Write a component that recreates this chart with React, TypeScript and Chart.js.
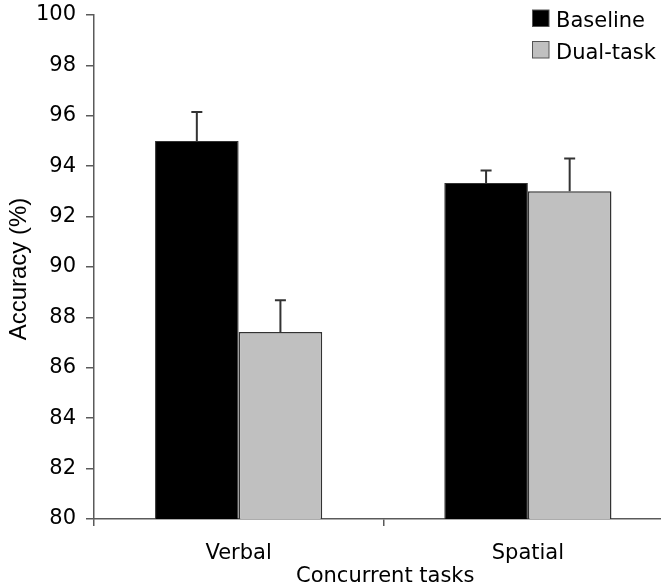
import React, { useEffect, useRef } from "react";
import { Chart, registerables } from "chart.js";

Chart.register(...registerables);

const categories = ["Verbal", "Spatial"];
const seriesNames = ["Baseline", "Dual-task"];
const baselineValues = [95.0, 93.33];
const dualTaskValues = [87.42, 93.01];
const baselineErrors = [1.15, 0.5];
const dualTaskErrors = [1.26, 1.3];
const yTicks = [80, 82, 84, 86, 88, 90, 92, 94, 96, 98, 100];
const yTitle = "Accuracy (%)";
const xTitle = "Concurrent tasks";

const FONT = "'DejaVu Sans', Verdana, sans-serif";
const AXIS = "#5a5a5a";

export default function App() {
  const ref = useRef<HTMLCanvasElement | null>(null);

  useEffect(() => {
    document.body.style.margin = "0";
    const canvas = ref.current;
    if (!canvas) return;
    const errors = [baselineErrors, dualTaskErrors];
    const colors = ["#000000", "#c0c0c0"];

    const extras = {
      id: "extras",
      afterDatasetsDraw(chart: any) {
        const ctx = chart.ctx;
        const yScale = chart.scales.y;
        ctx.save();
        ctx.strokeStyle = "#333";
        ctx.lineWidth = 2;
        chart.data.datasets.forEach((ds: any, di: number) => {
          const meta = chart.getDatasetMeta(di);
          meta.data.forEach((el: any, i: number) => {
            const v = ds.data[i];
            const top = yScale.getPixelForValue(v + errors[di][i]);
            ctx.beginPath();
            ctx.moveTo(el.x, el.y);
            ctx.lineTo(el.x, top);
            ctx.moveTo(el.x - 5.5, top);
            ctx.lineTo(el.x + 5.5, top);
            ctx.stroke();
          });
        });
        ctx.restore();
      },
      afterDraw(chart: any) {
        const ctx = chart.ctx;
        const area = chart.chartArea;
        ctx.save();
        // legend
        ctx.font = `21px ${FONT}`;
        ctx.textBaseline = "alphabetic";
        ctx.textAlign = "left";
        seriesNames.forEach((name, i) => {
          const y = 10 + i * 31.5;
          ctx.fillStyle = colors[i];
          ctx.fillRect(532.5, y, 16.5, 16.5);
          ctx.strokeStyle = "#555";
          ctx.lineWidth = 1;
          ctx.strokeRect(532.5, y, 16.5, 16.5);
          ctx.fillStyle = "#000";
          ctx.fillText(name, 556, y + 17);
        });
        // x title
        ctx.textAlign = "center";
        ctx.fillText(xTitle, (area.left + area.right) / 2 + 2, 582);
        // y title
        ctx.font = "24px 'Liberation Sans', Arial, sans-serif";
        ctx.translate(26, 269);
        ctx.rotate(-Math.PI / 2);
        ctx.textAlign = "center";
        ctx.fillText(yTitle, 0, 0);
        ctx.restore();
      },
    };

    const chart = new Chart(canvas, {
      type: "bar",
      data: {
        labels: categories,
        datasets: [
          {
            label: seriesNames[0],
            data: baselineValues,
            backgroundColor: colors[0],
            borderColor: "#333",
            borderWidth: 1,
          },
          {
            label: seriesNames[1],
            data: dualTaskValues,
            backgroundColor: colors[1],
            borderColor: "#333",
            borderWidth: 1.5,
          },
        ],
      },
      options: {
        responsive: false,
        animation: false,
        devicePixelRatio: 1,
        layout: { padding: { left: 0, top: 15, right: 47.5, bottom: 0 } },
        datasets: { bar: { categoryPercentage: 0.578, barPercentage: 1 } },
        plugins: { legend: { display: false }, tooltip: { enabled: false } },
        scales: {
          x: {
            offset: true,
            grid: {
              offset: true,
              drawOnChartArea: false,
              drawTicks: true,
              tickLength: 7,
              color: AXIS,
              lineWidth: 1.5,
            },
            border: { display: true, color: AXIS, width: 1.5 },
            ticks: { color: "#000", font: { family: FONT, size: 21 }, padding: 15 },
            afterFit: (s: any) => {
              s.height = 69;
              s.paddingLeft = 0;
              s.paddingRight = 0;
            },
          },
          y: {
            min: 80,
            max: 100,
            afterBuildTicks: (s: any) => {
              s.ticks = yTicks.map((v) => ({ value: v }));
            },
            grid: {
              drawOnChartArea: false,
              drawTicks: true,
              tickLength: 8,
              color: AXIS,
              lineWidth: 1.5,
            },
            border: { display: true, color: AXIS, width: 1.5 },
            ticks: { color: "#000", font: { family: FONT, size: 21 }, padding: 10 },
            afterFit: (s: any) => {
              s.width = 94;
              s.paddingTop = 0;
              s.paddingBottom = 0;
            },
          },
        },
      },
      plugins: [extras],
    });
    return () => chart.destroy();
  }, []);

  return (
    <div style={{ width: 661, height: 588, overflow: "hidden", position: "relative" }}>
      <canvas ref={ref} width={720} height={588} style={{ display: "block" }} />
    </div>
  );
}
